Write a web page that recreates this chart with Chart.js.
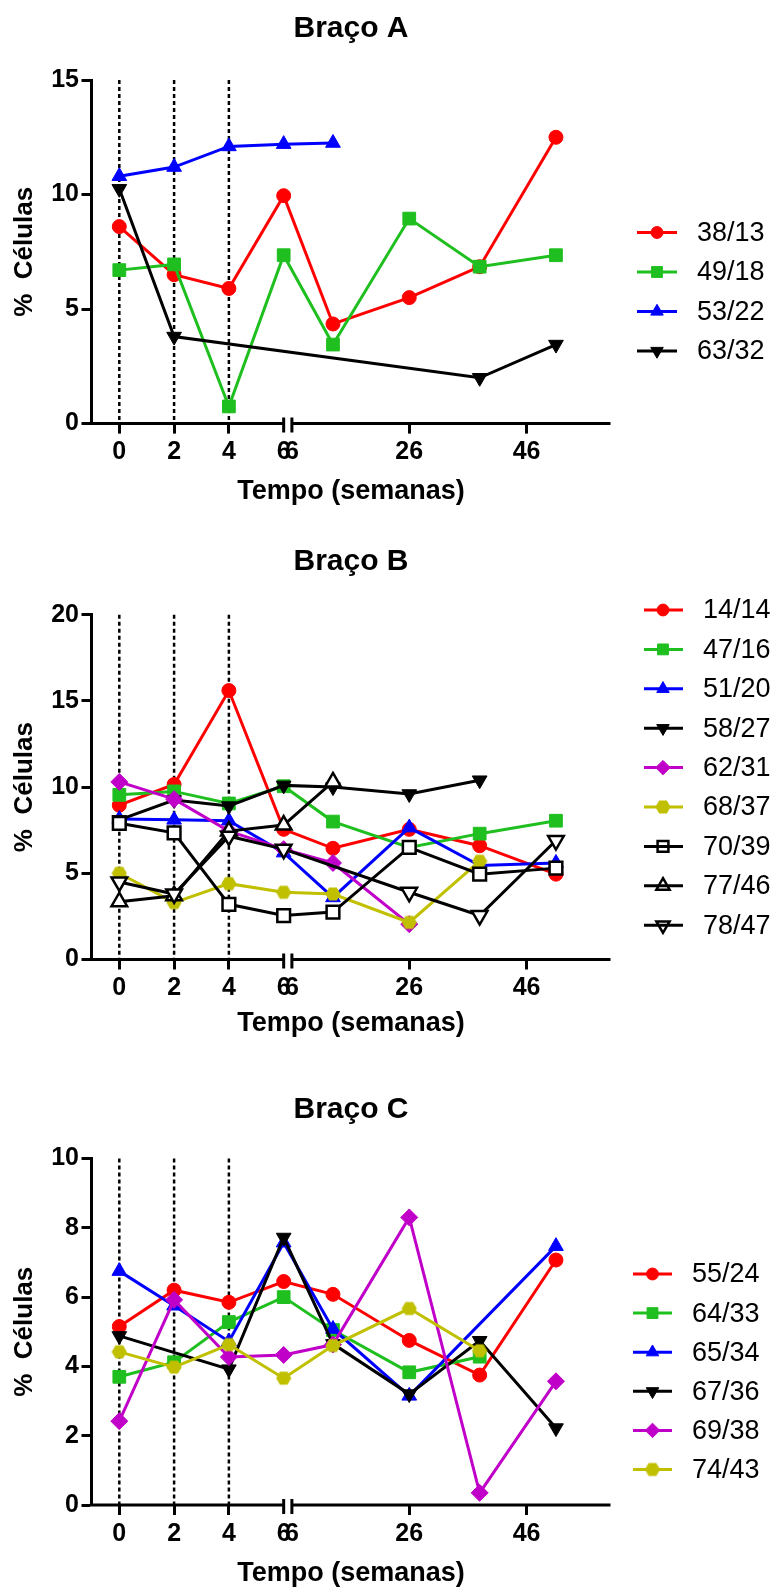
<!DOCTYPE html>
<html>
<head>
<meta charset="utf-8">
<script src="https://cdn.jsdelivr.net/npm/chart.js@4.4.1/dist/chart.umd.min.js"></script>
<style>
  body { margin: 0; background: #fff; width: 775px; height: 1587px; position: relative; overflow: hidden; }
  canvas { position: absolute; left: 0; }
</style>
</head>
<body>
<canvas id="bracoA" width="775" height="536" style="top:0px"></canvas>
<canvas id="bracoB" width="775" height="545" style="top:536px"></canvas>
<canvas id="bracoC" width="775" height="506" style="top:1081px"></canvas>
<script>
// semanas de coleta (eixo x com quebra depois da semana 6)
const semanas = [0, 2, 4, 6, 13, 26, 38, 51];
const ticksAntes = [0, 2, 4, 6];
const ticksDepois = [6, 26, 46];
const semanasTracejadas = [0, 2, 4];

// Braço A
const nomesA = ['38/13', '49/18', '53/22', '63/32'];
const a_38_13 = [8.6, 6.5, 5.9, 9.95, 4.35, 5.5, 6.85, 12.5];
const a_49_18 = [6.7, 6.95, 0.75, 7.35, 3.45, 8.95, 6.85, 7.35];
const a_53_22 = [10.8, 11.2, 12.1, 12.2, 12.25, null, null, null];
const a_63_32 = [10.25, 3.8, null, null, null, null, 2.0, 3.45];
const yTicksA = [0, 5, 10, 15];

// Braço B
const nomesB = ['14/14', '47/16', '51/20', '58/27', '62/31', '68/37', '70/39', '77/46', '78/47'];
const b_14_14 = [8.95, 10.15, 15.6, 7.55, 6.45, 7.55, 6.6, 4.95];
const b_47_16 = [9.55, 9.75, 9.05, 10.05, 8.0, 6.5, 7.3, 8.05];
const b_51_20 = [8.15, 8.1, 8.05, 6.2, 3.6, 7.65, 5.45, 5.6];
const b_58_27 = [8.1, 9.25, 8.9, 10.1, 10.0, 9.6, 10.4, null];
const b_62_31 = [10.3, 9.3, 7.45, 6.4, 5.6, 2.05, null, null];
const b_68_37 = [5.0, 3.3, 4.4, 3.9, 3.8, 2.15, 5.7, null];
const b_70_39 = [7.9, 7.35, 3.2, 2.55, 2.75, 6.5, 4.95, 5.3];
const b_77_46 = [3.35, 3.7, 7.45, 7.8, 10.3, null, null, null];
const b_78_47 = [4.5, 3.8, 7.15, 6.4, null, 3.9, 2.55, 6.9];
const yTicksB = [0, 5, 10, 15, 20];

// Braço C
const nomesC = ['55/24', '64/33', '65/34', '67/36', '69/38', '74/43'];
const c_55_24 = [5.15, 6.2, 5.85, 6.45, 6.08, 4.75, 3.75, 7.07];
const c_64_33 = [3.7, 4.12, 5.28, 6.0, 5.05, 3.83, 4.28, null];
const c_65_34 = [6.75, 5.75, 4.72, 7.57, 5.08, 3.15, null, 7.47];
const c_67_36 = [4.88, null, 3.92, 7.72, 4.65, 3.2, 4.74, 2.22];
const c_69_38 = [2.42, 5.92, 4.27, 4.33, 4.63, 8.3, 0.35, 3.57];
const c_74_43 = [4.42, 3.98, 4.63, 3.66, 4.6, 5.67, 4.45, null];
const yTicksC = [0, 2, 4, 6, 8, 10];

// ---- eixo x quebrado ----
const QUEBRA = 6;
const VAO = 0.3;       // espaço da quebra
const FATOR = 0.2142;  // compressão depois da quebra
const X_MIN = -1.015, X_MAX = 17.93;

function eixo(sem, lado) {
  if (lado === 'antes' || (lado === undefined && sem <= QUEBRA)) return sem;
  return QUEBRA + VAO + (sem - QUEBRA) * FATOR;
}

const ticksX = ticksAntes.map(s => ({ valor: eixo(s, 'antes'), rotulo: String(s), quebra: s === QUEBRA }))
  .concat(ticksDepois.map(s => ({ valor: eixo(s, 'depois'), rotulo: String(s), quebra: s === QUEBRA })));

Chart.defaults.font.family = "'Liberation Sans', Arial, sans-serif";
Chart.defaults.color = '#000';

const VERMELHO = '#ff0000', VERDE = '#1fbf1f', AZUL = '#0000ff', PRETO = '#000000',
      MAGENTA = '#c000c8', OLIVA = '#c0c000';

function hexagono(cor) {
  const c = document.createElement('canvas');
  c.width = 16; c.height = 16;
  const g = c.getContext('2d');
  g.fillStyle = cor;
  g.beginPath();
  for (let k = 0; k < 6; k++) {
    const ang = Math.PI / 3 * k;
    const px = 8 + 7.6 * Math.cos(ang), py = 8 + 7.6 * Math.sin(ang);
    if (k) g.lineTo(px, py); else g.moveTo(px, py);
  }
  g.closePath();
  g.fill();
  return c;
}

const circulo = { cor: VERMELHO, forma: 'circle', raio: 7 };
const quadrado = { cor: VERDE, forma: 'rect', raio: 9 };
const trianguloAzul = { cor: AZUL, forma: 'triangle', raio: 8.5 };
const trianguloBaixo = { cor: PRETO, forma: 'triangle', rot: 180, raio: 8.5 };
const losango = { cor: MAGENTA, forma: 'rectRot', raio: 8.5 };
const hexOliva = { cor: OLIVA, forma: hexagono(OLIVA), raio: 8 };
const quadradoAberto = { cor: PRETO, forma: 'rect', raio: 9, aberto: true };
const trianguloAberto = { cor: PRETO, forma: 'triangle', raio: 9, aberto: true };
const trianguloAbertoBaixo = { cor: PRETO, forma: 'triangle', rot: 180, raio: 9, aberto: true };

function montarSeries(nomes, valores, estilos) {
  return nomes.map((nome, i) => {
    const e = estilos[i];
    const pontos = [];
    valores[i].forEach((v, j) => {
      if (v !== null) pontos.push({ x: eixo(semanas[j]), y: v });
    });
    return {
      label: nome,
      data: pontos,
      order: -i,
      borderColor: e.cor,
      borderWidth: 3,
      pointStyle: e.forma,
      pointRotation: e.rot || 0,
      pointRadius: e.raio,
      pointHoverRadius: e.raio,
      pointBackgroundColor: e.aberto ? '#ffffff' : e.cor,
      pointBorderColor: e.cor,
      pointBorderWidth: e.aberto ? 2.5 : 1
    };
  });
}

// tracejados, linha do eixo x com quebra e legenda
const extras = {
  id: 'bracoExtras',
  beforeDatasetsDraw(chart) {
    const { ctx, chartArea: a, scales: { x } } = chart;
    ctx.save();
    ctx.strokeStyle = '#000';
    ctx.lineWidth = 2.5;
    ctx.setLineDash([4, 3]);
    semanasTracejadas.forEach(s => {
      const px = x.getPixelForValue(eixo(s));
      ctx.beginPath();
      ctx.moveTo(px, a.top);
      ctx.lineTo(px, a.bottom);
      ctx.stroke();
    });
    ctx.setLineDash([]);
    ctx.lineWidth = 3;
    const q1 = x.getPixelForValue(eixo(QUEBRA, 'antes'));
    const q2 = x.getPixelForValue(eixo(QUEBRA, 'depois'));
    ctx.beginPath();
    ctx.moveTo(a.left - 1.5, a.bottom);
    ctx.lineTo(q1, a.bottom);
    ctx.moveTo(q2, a.bottom);
    ctx.lineTo(a.right, a.bottom);
    ctx.moveTo(q1, a.bottom - 6);
    ctx.lineTo(q1, a.bottom + 9);
    ctx.moveTo(q2, a.bottom - 6);
    ctx.lineTo(q2, a.bottom + 9);
    ctx.stroke();
    ctx.restore();
  },
  afterDraw(chart, args, opts) {
    const leg = opts.legenda;
    if (!leg) return;
    const ctx = chart.ctx;
    chart.data.datasets.forEach((d, i) => {
      const y = leg.y + i * leg.passo;
      ctx.save();
      ctx.fillStyle = d.pointBackgroundColor;
      ctx.strokeStyle = d.pointBorderColor;
      ctx.lineWidth = d.pointBorderWidth;
      Chart.helpers.drawPoint(ctx, {
        pointStyle: d.pointStyle,
        rotation: d.pointRotation,
        radius: d.pointRadius * 0.85,
        borderWidth: d.pointBorderWidth
      }, leg.xMarca, y);
      ctx.strokeStyle = d.borderColor;
      ctx.lineWidth = 3;
      ctx.beginPath();
      ctx.moveTo(leg.x0, y);
      ctx.lineTo(leg.x1, y);
      ctx.stroke();
      ctx.fillStyle = '#000';
      ctx.font = "27px 'Liberation Sans', Arial, sans-serif";
      ctx.textBaseline = 'middle';
      ctx.textAlign = 'left';
      ctx.fillText(d.label, leg.xTexto, y + 1);
      ctx.restore();
    });
  }
};

function criarGrafico(id, p) {
  return new Chart(document.getElementById(id), {
    type: 'line',
    data: { datasets: p.series },
    options: {
      responsive: false,
      animation: false,
      events: [],
      layout: { padding: { left: 0, right: 164.5, top: 0, bottom: 0 } },
      plugins: {
        legend: { display: false },
        tooltip: { enabled: false },
        title: {
          display: true,
          fullSize: false,
          text: p.titulo,
          color: '#000',
          font: { size: 30, weight: 'bold' },
          padding: { top: p.tituloTopo, bottom: p.tituloBase }
        },
        bracoExtras: { legenda: p.legenda }
      },
      scales: {
        x: {
          type: 'linear',
          min: X_MIN,
          max: X_MAX,
          afterBuildTicks: s => { s.ticks = ticksX.map(t => ({ value: t.valor })); },
          afterFit: s => { s.height = p.alturaX; },
          ticks: {
            autoSkip: false, maxRotation: 0, minRotation: 0, padding: 4,
            color: '#000',
            font: { size: 25, weight: 'bold' },
            callback: (v, i) => ticksX[i].rotulo
          },
          grid: {
            drawOnChartArea: false, tickLength: 10, tickWidth: 3,
            tickColor: c => (ticksX[c.index] && ticksX[c.index].quebra) ? 'rgba(0,0,0,0)' : '#000'
          },
          border: { display: false },
          title: {
            display: true, text: 'Tempo (semanas)', color: '#000',
            font: { size: 27, weight: 'bold', lineHeight: 1 },
            padding: { top: 0, bottom: p.tituloXBase }
          }
        },
        y: {
          min: 0,
          max: p.yTicks[p.yTicks.length - 1],
          afterBuildTicks: s => { s.ticks = p.yTicks.map(v => ({ value: v })); },
          afterFit: s => { s.width = 91.5; },
          ticks: { padding: 2.5, color: '#000', font: { size: 25, weight: 'bold' } },
          grid: { drawOnChartArea: false, tickLength: 10, tickWidth: 3, tickColor: '#000' },
          border: { display: true, color: '#000', width: 3 },
          title: {
            display: true, text: '%  Células', color: '#000',
            font: { size: 26, weight: 'bold' },
            padding: { top: 9, bottom: 0 }
          }
        }
      }
    },
    plugins: [extras]
  });
}

criarGrafico('bracoA', {
  titulo: 'Braço A',
  series: montarSeries(nomesA, [a_38_13, a_49_18, a_53_22, a_63_32],
    [circulo, quadrado, trianguloAzul, trianguloBaixo]),
  yTicks: yTicksA,
  tituloTopo: 10.7, tituloBase: 33.3, alturaX: 112.4, tituloXBase: 30.5,
  legenda: { y: 232.5, passo: 39.5, x0: 637, x1: 677, xMarca: 657, xTexto: 697 }
});

criarGrafico('bracoB', {
  titulo: 'Braço B',
  series: montarSeries(nomesB,
    [b_14_14, b_47_16, b_51_20, b_58_27, b_62_31, b_68_37, b_70_39, b_77_46, b_78_47],
    [circulo, quadrado, trianguloAzul, trianguloBaixo, losango, hexOliva,
     quadradoAberto, trianguloAberto, trianguloAbertoBaixo]),
  yTicks: yTicksB,
  tituloTopo: 8, tituloBase: 34.7, alturaX: 121.5, tituloXBase: 43.8,
  legenda: { y: 74, passo: 39.4, x0: 644, x1: 683, xMarca: 663, xTexto: 703 }
});

criarGrafico('bracoC', {
  titulo: 'Braço C',
  series: montarSeries(nomesC, [c_55_24, c_64_33, c_65_34, c_67_36, c_69_38, c_74_43],
    [circulo, quadrado, trianguloAzul, trianguloBaixo, losango, hexOliva]),
  yTicks: yTicksC,
  tituloTopo: 11, tituloBase: 30.5, alturaX: 82, tituloXBase: 0,
  legenda: { y: 193, passo: 39.1, x0: 633, x1: 672, xMarca: 652.5, xTexto: 692 }
});
</script>
</body>
</html>
